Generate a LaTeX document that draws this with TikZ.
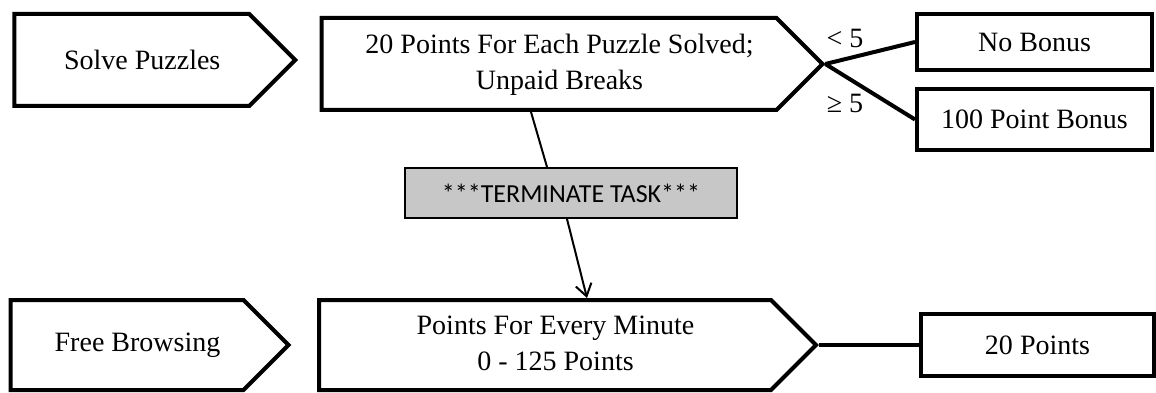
\documentclass[tikz,border=0pt]{standalone}
\usepackage{fontspec}
\setmainfont{Liberation Serif}
\newfontfamily\termfont{Carlito}
\usepackage{tikz}
\usetikzlibrary{shapes.symbols,positioning,arrows.meta,calc}
\definecolor{termgray}{RGB}{199,199,199}
\newcommand{\pentatext}[1]{\hspace*{21pt}#1}

\begin{document}
\begin{tikzpicture}[x=1pt, y=-1pt, font=\fontsize{28}{36}\selectfont,
    penta/.style={draw, line width=4pt, signal, signal to=east, signal pointer angle=90, inner sep=0pt, minimum height=92pt},
    result/.style={draw, line width=4pt, rectangle, inner sep=0pt, minimum width=235pt},
    link/.style={line width=4pt},
    thinlink/.style={line width=2pt}]
\useasboundingbox (0,0) rectangle (1156,393);
% puzzle task
\node[penta, minimum width=281pt] (solve) at (131.75,60) {\pentatext{Solve Puzzles}};
\node[penta, minimum width=501pt] (perpuzzle) at (549,64) {\pentatext{\begin{tabular}{@{}c@{}}20 Points For Each Puzzle Solved;\\ Unpaid Breaks\end{tabular}}};
\node[result, minimum height=56pt] (nobonus) at (1034.5,42) {No Bonus};
\node[result, minimum height=61pt] (bonus) at (1034.5,119.5) {100 Point Bonus};
\draw[link] (perpuzzle.east) -- (nobonus.west);
\draw[link] (perpuzzle.east) -- (bonus.west);
\node (lessfive) at (845,38) {< 5};
\node (atleastfive) at (845,103) {≥ 5};
% switch
\node[draw, thinlink, fill=termgray, minimum width=332pt, minimum height=50pt, inner sep=0pt, font=\termfont\fontsize{26}{30}\selectfont] (term) at (571,193) {***TERMINATE TASK***};
% browsing task
\node[penta, minimum width=278pt, minimum height=90pt] (browse) at (127,345) {\pentatext{Free Browsing}};
\node[penta, minimum width=497pt, minimum height=90pt] (perminute) at (545,345) {\pentatext{\begin{tabular}{@{}c@{}}Points For Every Minute\\ 0 - 125 Points\end{tabular}}};
\node[result, minimum width=233pt, minimum height=62pt] (twenty) at (1037.5,345) {20 Points};
\draw[link] (perminute.east) -- (twenty.west);
\draw[thinlink] ([xshift=-18pt]perpuzzle.south) -- ([xshift=-24pt]term.north);
\draw[thinlink, -{Straight Barb[length=12pt,width=16pt]}] ([xshift=-4pt]term.south) -- ([xshift=42pt]perminute.north);
\end{tikzpicture}
\end{document}
